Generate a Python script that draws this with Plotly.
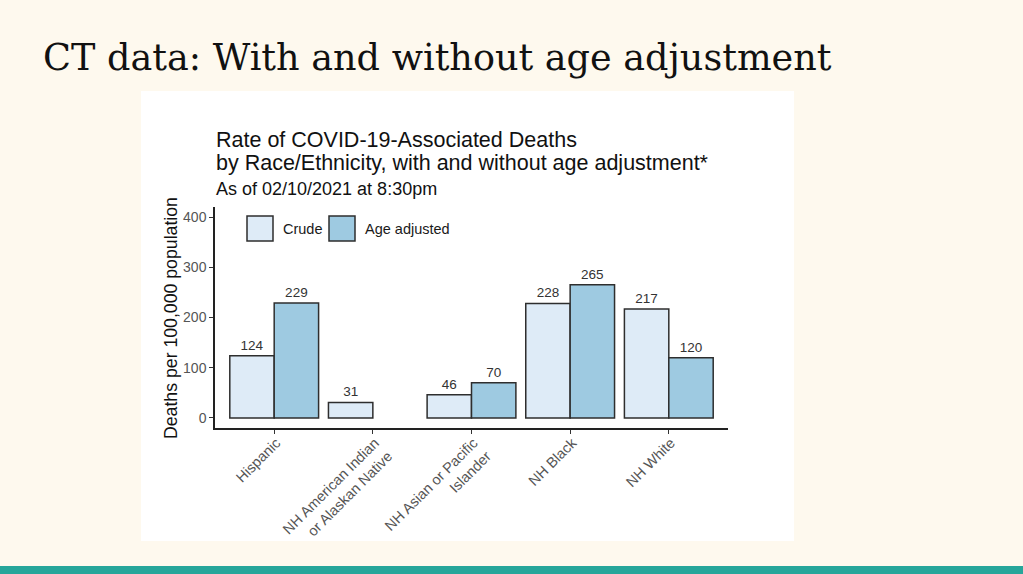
import plotly.graph_objects as go

# ---- data ----
categories = ["Hispanic", "NH American Indian<br>or Alaskan Native",
              "NH Asian or Pacific<br>Islander", "NH Black", "NH White"]
crude = [124, 31, 46, 228, 217]
age_adjusted = [229, None, 70, 265, 120]
series_names = ["Crude", "Age adjusted"]
y_ticks = [0, 100, 200, 300, 400]

# ---- layout geometry (pixels) ----
W, H = 1023, 574
PL, PR, PT, PB = 215, 728, 207, 428  # plot area

def px2x(px):
    return (px - PL) / (PR - PL)

def px2y(py):
    return (PB - py) / (PB - PT)

CRUDE_COL = "#DEEBF7"
ADJ_COL = "#9ECAE1"
EDGE = "#2E2E2E"
SANS = "Liberation Sans, Arial, sans-serif"
BG = "#FEF9EE"

fig = go.Figure()
for name, vals, col in [(series_names[0], crude, CRUDE_COL),
                        (series_names[1], age_adjusted, ADJ_COL)]:
    fig.add_trace(go.Bar(
        x=categories, y=vals, name=name,
        marker=dict(color=col, line=dict(color=EDGE, width=1.5)),
        text=[("" if v is None else str(v)) for v in vals],
        textposition="outside",
        textfont=dict(family=SANS, size=13.5, color="#333333"),
        constraintext="none",
        cliponaxis=False,
        showlegend=False,
        hoverinfo="x+y+name",
    ))

shapes = [
    # white chart panel
    dict(type="rect", xref="paper", yref="paper", layer="below",
         x0=px2x(141), x1=px2x(794), y0=px2y(541), y1=px2y(91),
         fillcolor="white", line=dict(width=0)),
    # teal band at bottom of slide
    dict(type="rect", xref="paper", yref="paper", layer="below",
         x0=px2x(-5), x1=px2x(W + 5), y0=px2y(H + 10), y1=px2y(566),
         fillcolor="#26A69A", line=dict(width=0)),
]
annotations = []

# legend keys (drawn inside the panel, top-left)
legend_items = [(series_names[0], CRUDE_COL, 247, 281),
                (series_names[1], ADJ_COL, 329, 363)]
for name, col, bx, tx in legend_items:
    shapes.append(dict(type="rect", xref="paper", yref="paper",
                       x0=px2x(bx), x1=px2x(bx + 26), y0=px2y(241), y1=px2y(216),
                       fillcolor=col, line=dict(color=EDGE, width=1.5)))
    annotations.append(dict(text=name, xref="paper", yref="paper",
                            x=px2x(tx), y=px2y(229), xanchor="left", yanchor="middle",
                            showarrow=False,
                            font=dict(family=SANS, size=14.5, color="#1A1A1A")))

# chart titles
annotations += [
    dict(text="Rate of COVID-19-Associated Deaths", xref="paper", yref="paper",
         x=px2x(214), y=px2y(140), xanchor="left", yanchor="middle", showarrow=False,
         font=dict(family=SANS, size=21.5, color="#111111")),
    dict(text="by Race/Ethnicity, with and without age adjustment*", xref="paper", yref="paper",
         x=px2x(214), y=px2y(163), xanchor="left", yanchor="middle", showarrow=False,
         font=dict(family=SANS, size=21.5, color="#111111")),
    dict(text="As of 02/10/2021 at 8:30pm", xref="paper", yref="paper",
         x=px2x(214), y=px2y(189), xanchor="left", yanchor="middle", showarrow=False,
         font=dict(family=SANS, size=18, color="#111111")),
    # y axis title
    dict(text="Deaths per 100,000 population", xref="paper", yref="paper",
         x=px2x(171), y=px2y(318), xanchor="center", yanchor="middle", showarrow=False,
         textangle=-90, font=dict(family=SANS, size=17.7, color="#111111")),
    # slide title
    dict(text="CT data: With and without age adjustment", xref="paper", yref="paper",
         x=px2x(41), y=px2y(57), xanchor="left", yanchor="middle", showarrow=False,
         font=dict(family="DejaVu Serif, serif", size=36.6, color="#111111")),
]

fig.update_layout(
    width=W, height=H,
    margin=dict(l=PL, r=W - PR, t=PT, b=H - PB, pad=0),
    paper_bgcolor=BG,
    plot_bgcolor="white",
    barmode="group", bargap=0.1, bargroupgap=0,
    shapes=shapes, annotations=annotations,
    showlegend=False,
    xaxis=dict(
        type="category", range=[-0.6, 4.6], showgrid=False, zeroline=False,
        showline=True, linecolor="#222222", linewidth=1.5,
        ticks="outside", ticklen=4, tickwidth=1.2, tickcolor="#333333",
        tickangle=-45, ticklabelstandoff=-5, ticklabelshift=2,
        tickfont=dict(family=SANS, size=14.5, color="#555555"),
    ),
    yaxis=dict(
        range=[-20, 420], tickvals=y_ticks, showgrid=False, zeroline=False,
        showline=True, linecolor="#222222", linewidth=1.5,
        ticks="outside", ticklen=4, tickwidth=1.2, tickcolor="#333333",
        tickfont=dict(family=SANS, size=14, color="#555555"),
    ),
)

fig.write_html(
    "out.html",
    config={"displayModeBar": False},
    post_script=("document.body.style.margin='0';document.body.style.padding='0';"
                 "document.body.style.overflow='hidden';"
                 "document.body.style.background='" + BG + "';"),
)
